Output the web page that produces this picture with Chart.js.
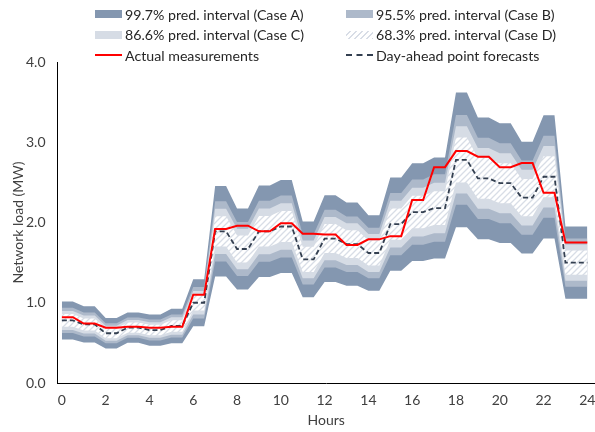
<!DOCTYPE html>
<html>
<head>
<meta charset="utf-8">
<script src="https://cdn.jsdelivr.net/npm/chart.js@4.4.0/dist/chart.umd.min.js"></script>
<style>
  html, body { margin: 0; padding: 0; background: #fff; }
  #wrap { position: relative; width: 595px; height: 432px; overflow: hidden; }
  #c { position: absolute; left: 0; top: 0; }
  #legend { position: absolute; left: 0; top: 0; width: 595px; height: 62px;
            font-family: Lato, "Open Sans", sans-serif; font-size: 14.2px; color: #262626; }
  .item { position: absolute; display: flex; align-items: center; white-space: nowrap; height: 16px; }
  .swatch { width: 27px; height: 8px; margin-right: 3px; flex: none; }
  .line { width: 27px; height: 0; margin-right: 3px; flex: none; }
</style>
</head>
<body>
<div id="wrap">
  <canvas id="c" width="595" height="432"></canvas>
  <div id="legend"></div>
</div>
<script>
// Hourly network load (MW), one value per hour 0..23
const hours = [0, 1, 2, 3, 4, 5, 6, 7, 8, 9, 10, 11, 12, 13, 14, 15, 16, 17, 18, 19, 20, 21, 22, 23];
const actual = [0.82, 0.74, 0.69, 0.70, 0.69, 0.70, 1.10, 1.92, 1.96, 1.89, 1.99, 1.86,
                1.85, 1.72, 1.79, 1.83, 2.28, 2.69, 2.89, 2.82, 2.69, 2.74, 2.37, 1.75];
const forecast = [0.78, 0.73, 0.62, 0.69, 0.66, 0.71, 1.00, 1.89, 1.67, 1.89, 1.95, 1.54,
                  1.80, 1.73, 1.62, 1.98, 2.13, 2.18, 2.78, 2.55, 2.49, 2.31, 2.57, 1.50];
// Standard deviation of the forecast error per hour (MW)
const sigma = [0.079, 0.075, 0.063, 0.063, 0.065, 0.072, 0.098, 0.188, 0.168, 0.190, 0.193, 0.157,
               0.180, 0.173, 0.157, 0.194, 0.203, 0.210, 0.280, 0.253, 0.249, 0.232, 0.256, 0.150];

// Prediction interval levels and their z-multipliers
const intervalLevels = ['99.7%', '95.5%', '86.6%', '68.3%'];
const intervalCases = ['A', 'B', 'C', 'D'];
const intervalZ = [3, 2, 1.5, 1];

const xTicks = [0, 2, 4, 6, 8, 10, 12, 14, 16, 18, 20, 22, 24];
const yTicks = [0, 1, 2, 3, 4];

const bandColors = ['#8497b0', '#adb9ca', '#d6dce5'];

// Each hourly value is held for the first half of the hour, then ramps to the next hour
function hourlyProfile(values) {
  const pts = [];
  hours.forEach((h, i) => {
    pts.push({ x: h, y: values[i] });
    pts.push({ x: h + 0.5, y: values[i] });
  });
  pts.push({ x: 24, y: values[values.length - 1] });
  return pts;
}

const canvas = document.getElementById('c');
const ctx = canvas.getContext('2d');

function hatchPattern() {
  const s = 6;
  const tile = document.createElement('canvas');
  tile.width = s; tile.height = s;
  const g = tile.getContext('2d');
  g.fillStyle = '#ffffff';
  g.fillRect(0, 0, s, s);
  g.strokeStyle = '#d8dde6';
  g.lineWidth = 1.3;
  g.beginPath();
  g.moveTo(0, s); g.lineTo(s, 0);
  g.moveTo(-1, 1); g.lineTo(1, -1);
  g.moveTo(s - 1, s + 1); g.lineTo(s + 1, s - 1);
  g.stroke();
  return ctx.createPattern(tile, 'repeat');
}
const hatch = hatchPattern();

const datasets = [
  {
    label: 'Actual measurements',
    data: hourlyProfile(actual),
    borderColor: '#ff0000', borderWidth: 2, fill: false
  },
  {
    label: 'Day-ahead point forecasts',
    data: hourlyProfile(forecast),
    borderColor: '#333f50', borderWidth: 1.8, borderDash: [5, 3], fill: false
  }
];

// Bands, narrowest first so the widest is painted underneath
for (let k = intervalZ.length - 1; k >= 0; k--) {
  const z = intervalZ[k];
  const upper = forecast.map((f, i) => f + z * sigma[i]);
  const lower = forecast.map((f, i) => f - z * sigma[i]);
  const bg = k === 3 ? hatch : bandColors[k];
  datasets.push({
    label: intervalLevels[k] + ' pred. interval (Case ' + intervalCases[k] + ')',
    data: hourlyProfile(upper),
    borderWidth: 0, borderColor: 'rgba(0,0,0,0)', backgroundColor: bg, fill: '+1'
  });
  datasets.push({
    label: '',
    data: hourlyProfile(lower),
    borderWidth: 0, borderColor: 'rgba(0,0,0,0)', backgroundColor: bg, fill: false
  });
}

const tickFont = { family: 'Lato, "Open Sans", sans-serif', size: 14 };

new Chart(ctx, {
  type: 'line',
  data: { datasets },
  options: {
    responsive: false,
    animation: false,
    events: [],
    layout: { padding: { top: 62, left: 0, right: 0, bottom: 0 } },
    elements: { point: { radius: 0 }, line: { tension: 0 } },
    plugins: { legend: { display: false }, tooltip: { enabled: false } },
    scales: {
      x: {
        type: 'linear',
        min: -0.2, max: 24.35,
        afterBuildTicks: (s) => { s.ticks = xTicks.map(v => ({ value: v })); },
        afterFit: (s) => { s.height = 49; s.paddingLeft = 0; s.paddingRight = 0; },
        grid: { display: false, drawTicks: false },
        border: { display: true, color: '#000000', width: 1 },
        ticks: { padding: 9, color: '#404040', font: tickFont, maxRotation: 0,
                 callback: (v) => String(v) },
        title: { display: true, text: 'Hours', color: '#404040', font: tickFont,
                 padding: { top: 0, bottom: 3 } }
      },
      y: {
        type: 'linear',
        min: 0, max: 4,
        afterBuildTicks: (s) => { s.ticks = yTicks.map(v => ({ value: v })); },
        afterFit: (s) => { s.width = 57.5; s.paddingTop = 0; s.paddingBottom = 0; },
        grid: { display: false, drawTicks: false },
        border: { display: true, color: '#000000', width: 1 },
        ticks: { padding: 12, color: '#404040', font: tickFont,
                 callback: (v) => Number(v).toFixed(1) },
        title: { display: true, text: 'Network load (MW)', color: '#404040', font: tickFont,
                 padding: { top: 10, bottom: 0 } }
      }
    }
  }
});

// Two-column legend above the plot
const legendItems = [
  { text: datasets[8].label, swatch: 'background:' + bandColors[0] },
  { text: datasets[6].label, swatch: 'background:' + bandColors[1] },
  { text: datasets[4].label, swatch: 'background:' + bandColors[2] },
  { text: datasets[2].label, swatch: 'background:repeating-linear-gradient(135deg,#ffffff 0px,#ffffff 2.6px,#d8dde6 2.6px,#d8dde6 4.2px)' },
  { text: datasets[0].label, line: 'border-top:2px solid #ff0000' },
  { text: datasets[1].label, line: 'border-top:2px dashed #333f50' }
];
const colX = [95, 346];
const rowY = [6, 26.5, 47];
const legend = document.getElementById('legend');
legendItems.forEach((it, i) => {
  const el = document.createElement('div');
  el.className = 'item';
  el.style.left = colX[i % 2] + 'px';
  el.style.top = rowY[Math.floor(i / 2)] + 'px';
  const sw = document.createElement('span');
  if (it.swatch) { sw.className = 'swatch'; sw.setAttribute('style', it.swatch); }
  else { sw.className = 'line'; sw.setAttribute('style', it.line); }
  const tx = document.createElement('span');
  tx.textContent = it.text;
  el.appendChild(sw);
  el.appendChild(tx);
  legend.appendChild(el);
});
</script>
</body>
</html>
